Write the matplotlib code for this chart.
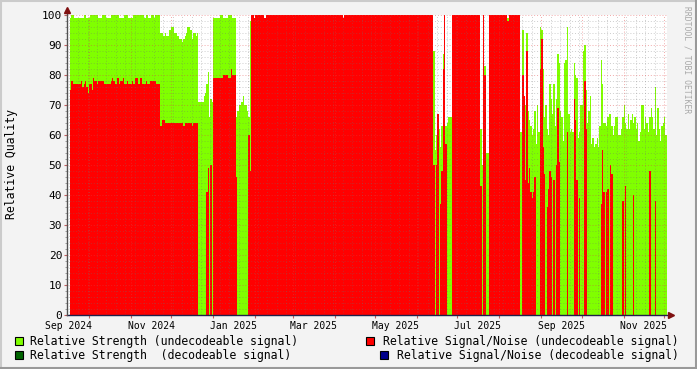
import numpy as np
import pandas as pd
import matplotlib
matplotlib.use("Agg")
import matplotlib.pyplot as plt
import matplotlib.dates as mdates
import matplotlib.transforms as mtransforms
from matplotlib.lines import Line2D
from matplotlib.patches import Rectangle
from matplotlib.ticker import MultipleLocator, NullFormatter

# one value per day, starting at first_day
first_day = "2024-09-17"

# relative strength (undecodeable signal), %
strength = (
    [99, 100, 100] + [99]*7 + [100]*2 + [99]*3 + [100]*6 + [99]*3 + [100]*3
    + [99]*3 + [100]*6 + [99]*4 + [100]*3 + [99]*4 + [100]*8 + [99] + [100]*2
    + [99]*2 + [100]*2 + [99] + [100]*4
    + [94, 94, 93, 94, 93, 93, 95, 95, 96, 96, 94, 94, 93, 93, 92, 92, 91, 92,
       93, 94, 96, 96, 95, 92, 94, 94, 93, 94]
    + [71, 71, 71, 71, 73, 74, 77, 81, 66, 72, 71]
    + [99]*5 + [100]*2 + [99]*4 + [100]*3 + [99]*3
    + [66, 68, 70, 70, 71, 73, 70, 70, 68, 66, 98]
    + [99]*135
    + [88, 55, 60, 57, 62, 56, 63, 87, 60, 63, 64, 66, 66, 66]
    + [99]*21
    + [62, 50, 60, 83, 54, 54]
    + [99]*23
    + [61, 61, 95, 62, 70, 94, 68, 65, 63, 60, 62, 68, 57, 70, 61, 96, 95, 82, 66, 70,
       62, 60, 77, 72, 67, 77, 63, 72, 87, 84, 68, 66, 58, 84, 85, 96, 67, 61, 62, 61,
       84, 80, 79, 59, 61, 70, 70, 88, 90, 75, 64, 68, 73, 57, 59, 56, 57, 59, 56, 63]
    + [85, 77, 64, 64, 63, 66, 67, 67, 63, 60, 63, 66, 66, 60, 60, 62, 66, 70, 64, 62,
       67, 62, 65, 67, 64, 66, 62, 64, 58, 61, 70, 70, 62, 66, 64, 61, 66, 69, 66, 62,
       76, 60, 69, 62, 58, 63, 64, 66, 60, 64]
)

# relative signal/noise (undecodeable signal), %
snr = (
    [75, 78, 77, 77, 77, 77, 77, 77, 78, 76, 77, 78, 76, 74, 77, 77, 75, 79, 78, 78,
     77, 78, 78, 78, 78, 77, 77, 77, 77, 77, 78, 79, 78, 77, 77, 79, 77, 78, 78, 79,
     77, 77, 78, 77, 77, 77, 78, 77, 79, 79, 77, 77, 79, 77, 77, 77, 78, 77, 77, 78,
     78, 78, 78, 78, 77, 77, 77]
    + [63, 65, 65] + [64]*14 + [63] + [64]*5 + [63] + [64]*4
    + [0, 0, 0, 0, 0, 0, 41, 49, 0, 50, 0]
    + [79]*7 + [80]*4 + [79]*2 + [82] + [80]*3
    + [46, 0, 0, 0, 0, 0, 0, 0, 0, 60, 48]
    + [100]*2 + [99] + [100]*7 + [99] + [100]*57 + [99] + [100]*66
    + [50, 0, 50, 67, 0, 37, 48, 82, 100, 57, 0, 0, 0, 0]
    + [100]*21
    + [43, 0, 100, 80, 0, 0]
    + [100]*14 + [98] + [100]*8
    + [0, 0, 80, 73, 45, 88, 44, 49, 41, 39, 41, 46, 0, 0, 0, 82, 92, 56, 47, 0,
       36, 42, 48, 46, 0, 45, 0, 50, 69, 51, 0, 0, 0, 0, 0, 61, 0, 0, 0, 0,
       72, 65, 45, 0, 39, 0, 0, 0, 78, 62] + [0]*10
    + [37, 55, 41, 0, 41, 42, 0, 50, 47] + [0]*7 + [38, 0, 43] + [0]*5 + [40]
    + [0]*11 + [48] + [0]*3 + [38] + [0]*9
)
assert len(strength) == len(snr)

legend_left = ["Relative Strength (undecodeable signal)", "Relative Strength  (decodeable signal)"]
legend_right = ["Relative Signal/Noise (undecodeable signal)", "Relative Signal/Noise (decodeable signal)"]
c_str, c_str_dec = "#80FF00", "#006400"
c_snr, c_snr_dec = "#FF0000", "#00008B"

mono = "DejaVu Sans Mono"
W, H = 697, 369

fig = plt.figure(figsize=(W / 100, H / 100), dpi=100)
fig.patch.set_facecolor("#F3F3F3")
ax = fig.add_axes([67 / W, 54 / H, 600 / W, 300 / H])
ax.set_facecolor("white")

edges = mdates.date2num(pd.date_range(first_day, periods=len(strength) + 1, freq="D"))
ax.stairs(strength, edges, baseline=0, fill=True, color=c_str, lw=0)
ax.stairs(snr, edges, baseline=0, fill=True, color=c_snr, lw=0)

left = edges[0] - 3 / 1.35
ax.set_xlim(left, left + 600 / 1.35)
ax.set_ylim(0, 100)

ax.xaxis.set_major_locator(mdates.MonthLocator())
ax.xaxis.set_minor_locator(mdates.WeekdayLocator(byweekday=mdates.MO))
ax.xaxis.set_major_formatter(NullFormatter())
ax.yaxis.set_major_locator(MultipleLocator(10))
ax.yaxis.set_minor_locator(MultipleLocator(2))

ax.set_axisbelow(False)
ax.grid(which="minor", color="#707070", alpha=0.35, ls=(0, (1, 2)), lw=0.7)
ax.grid(which="major", color="#E04040", alpha=0.45, ls=(0, (1, 2)), lw=0.7)

for s in ax.spines.values():
    s.set_visible(False)
ax.tick_params(axis="both", which="major", length=2.5, color="#C06060", width=0.8)
ax.tick_params(axis="x", which="minor", length=0)
ax.tick_params(axis="y", which="minor", length=1.5, color="#909090")
ax.tick_params(axis="y", labelsize=8, pad=1)
for lab in ax.get_yticklabels():
    lab.set_family(mono)

# month labels sit in the middle of every second month
trans = mtransforms.blended_transform_factory(ax.transData, ax.transAxes)
for m in pd.date_range("2024-09-01", "2025-11-01", freq="2MS"):
    ax.text(mdates.date2num(m + pd.Timedelta(days=15)), -0.036, m.strftime("%b %Y"),
            transform=trans, ha="center", va="center", fontsize=7, family=mono)

# axis lines with arrows
ax.plot([0, 1.008], [0, 0], transform=ax.transAxes, color="#20204A", lw=1, clip_on=False, zorder=5)
ax.plot([0, 0], [0, 1.02], transform=ax.transAxes, color="#505050", lw=1, clip_on=False, zorder=5)
ax.plot([1.006], [0], transform=ax.transAxes, marker=">", ms=4.5, color="#7F1010", clip_on=False, zorder=6)
ax.plot([0], [1.018], transform=ax.transAxes, marker="^", ms=4.5, color="#7F1010", clip_on=False, zorder=6)

fig.text(12 / W, 1 - 164 / H, "Relative Quality", rotation=90, ha="center", va="center",
         fontsize=8.3, family=mono)
fig.text(687.5 / W, 1 - 60 / H, "RRDTOOL / TOBI OETIKER", rotation=270, ha="center", va="center",
         fontsize=5.8, family=mono, color="#A8A8A8")

# legend
rows = [(341, 15, 366), (355, 15, 380)]
for (yc, xl, xr), tl, tr, cl, cr in zip(rows, legend_left, legend_right,
                                         [c_str, c_str_dec], [c_snr, c_snr_dec]):
    for xs, col in ((xl, cl), (xr, cr)):
        fig.add_artist(Rectangle((xs / W, 1 - (yc + 4) / H), 8 / W, 8 / H,
                                 transform=fig.transFigure, facecolor=col,
                                 edgecolor="black", lw=0.8))
    fig.text(30 / W, 1 - yc / H, tl, ha="left", va="center", fontsize=8.3, family=mono)
    fig.text(679 / W, 1 - yc / H, tr, ha="right", va="center", fontsize=8.3, family=mono)

# 3d frame around the image
fig.add_artist(Line2D([0, 1], [1 - 1 / H, 1 - 1 / H], transform=fig.transFigure, color="#CBCBCB", lw=1.5))
fig.add_artist(Line2D([1 / W, 1 / W], [0, 1], transform=fig.transFigure, color="#CBCBCB", lw=1.5))
fig.add_artist(Line2D([0, 1], [1 / H, 1 / H], transform=fig.transFigure, color="#999999", lw=1.5))
fig.add_artist(Line2D([1 - 1 / W, 1 - 1 / W], [0, 1], transform=fig.transFigure, color="#999999", lw=1.5))

fig.savefig("out.png", dpi=100, facecolor=fig.get_facecolor())
